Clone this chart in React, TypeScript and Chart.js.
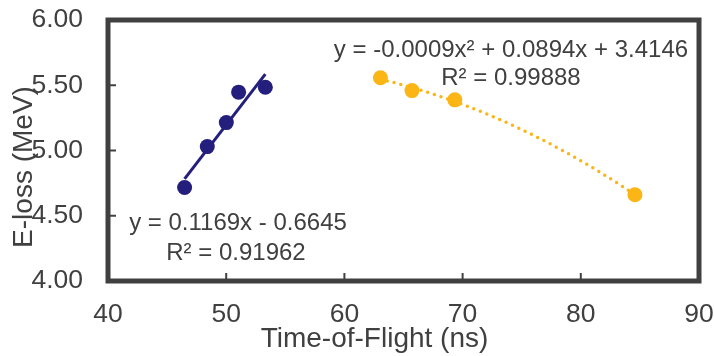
import React, { useEffect, useRef } from 'react';
import { Chart, registerables } from 'chart.js';

Chart.register(...registerables);

// Series
const blueX = [46.48, 48.4, 50.01, 51.05, 53.31];
const blueY = [4.716, 5.03, 5.214, 5.447, 5.485];
const orangeX = [63.05, 65.72, 69.34, 84.58];
const orangeY = [5.558, 5.459, 5.388, 4.661];

// Axis settings
const xMin = 40;
const xMax = 90;
const xStep = 10;
const yMin = 4;
const yMax = 6;
const yStep = 0.5;

// Text
const xTitle = 'Time-of-Flight (ns)';
const yTitle = 'E-loss (MeV)';
const blueEq = 'y = 0.1169x - 0.6645';
const blueR2 = 'R² = 0.91962';
const orangeEq = 'y = -0.0009x² + 0.0894x + 3.4146';
const orangeR2 = 'R² = 0.99888';

const BLUE = '#241f7d';
const ORANGE = '#fbb616';
const TEXT = '#404040';
const FONT = '"Liberation Sans", Arial, sans-serif';

function linFit(xs: number[], ys: number[]) {
  const n = xs.length;
  const mx = xs.reduce((a, b) => a + b, 0) / n;
  const my = ys.reduce((a, b) => a + b, 0) / n;
  let sxy = 0, sxx = 0;
  for (let i = 0; i < n; i++) {
    sxy += (xs[i] - mx) * (ys[i] - my);
    sxx += (xs[i] - mx) ** 2;
  }
  const b = sxy / sxx;
  return [my - b * mx, b];
}

function quadFit(xs: number[], ys: number[]) {
  const S = (p: number) => xs.reduce((a, x) => a + x ** p, 0);
  const T = (p: number) => xs.reduce((a, x, i) => a + x ** p * ys[i], 0);
  const m = [
    [S(0), S(1), S(2), T(0)],
    [S(1), S(2), S(3), T(1)],
    [S(2), S(3), S(4), T(2)],
  ];
  for (let c = 0; c < 3; c++) {
    for (let r = c + 1; r < 3; r++) {
      const f = m[r][c] / m[c][c];
      for (let k = c; k < 4; k++) m[r][k] -= f * m[c][k];
    }
  }
  const res = [0, 0, 0];
  for (let r = 2; r >= 0; r--) {
    let s = m[r][3];
    for (let k = r + 1; k < 3; k++) s -= m[r][k] * res[k];
    res[r] = s / m[r][r];
  }
  return res;
}

export default function App() {
  const ref = useRef<HTMLCanvasElement>(null);

  useEffect(() => {
    if (!ref.current) return;
    const lin = linFit(blueX, blueY);
    const q = quadFit(orangeX, orangeY);
    const bMin = Math.min(...blueX), bMax = Math.max(...blueX);
    const oMin = Math.min(...orangeX), oMax = Math.max(...orangeX);
    const linLine = [bMin, bMax].map((x) => ({ x, y: lin[0] + lin[1] * x }));
    const quadLine: { x: number; y: number }[] = [];
    for (let i = 0; i <= 60; i++) {
      const x = oMin + ((oMax - oMin) * i) / 60;
      quadLine.push({ x, y: q[0] + q[1] * x + q[2] * x * x });
    }

    const frame = {
      id: 'frame',
      afterDraw(chart: any) {
        const { ctx, chartArea: a, scales } = chart;
        ctx.save();
        ctx.strokeStyle = TEXT;
        ctx.lineWidth = 2;
        scales.x.ticks.forEach((t: any) => {
          if (t.value <= xMin || t.value >= xMax) return;
          const px = scales.x.getPixelForValue(t.value);
          ctx.beginPath();
          ctx.moveTo(px, a.bottom);
          ctx.lineTo(px, a.bottom - 8);
          ctx.stroke();
        });
        scales.y.ticks.forEach((t: any) => {
          if (t.value <= yMin || t.value >= yMax) return;
          const py = scales.y.getPixelForValue(t.value);
          ctx.beginPath();
          ctx.moveTo(a.left, py);
          ctx.lineTo(a.left + 8, py);
          ctx.stroke();
        });
        ctx.lineWidth = 5;
        ctx.strokeRect(a.left, a.top, a.right - a.left, a.bottom - a.top);

        ctx.fillStyle = TEXT;
        ctx.textBaseline = 'alphabetic';
        ctx.textAlign = 'center';
        ctx.font = `24px ${FONT}`;
        ctx.fillText(blueEq, 238, 229.5);
        ctx.fillText(blueR2, 236, 260);
        ctx.fillText(orangeEq, 511, 56.5);
        ctx.fillText(orangeR2, 511, 85);

        ctx.font = `28px ${FONT}`;
        ctx.fillText(xTitle, 374.5, 347);
        ctx.translate(32, 167);
        ctx.rotate(-Math.PI / 2);
        ctx.fillText(yTitle, 0, 0);
        ctx.restore();
      },
    };

    const chart = new Chart(ref.current, {
      type: 'scatter',
      data: {
        datasets: [
          {
            data: blueX.map((x, i) => ({ x, y: blueY[i] })),
            backgroundColor: BLUE,
            borderWidth: 0,
            pointRadius: 7.5,
          },
          {
            data: orangeX.map((x, i) => ({ x, y: orangeY[i] })),
            backgroundColor: ORANGE,
            borderWidth: 0,
            pointRadius: 7.5,
          },
          {
            data: linLine,
            showLine: true,
            borderColor: BLUE,
            borderWidth: 3,
            pointRadius: 0,
          },
          {
            data: quadLine,
            showLine: true,
            borderColor: ORANGE,
            borderWidth: 3.5,
            borderDash: [0, 7],
            borderCapStyle: 'round',
            pointRadius: 0,
            tension: 0,
          },
        ],
      } as any,
      plugins: [frame],
      options: {
        animation: false,
        responsive: false,
        devicePixelRatio: 1,
        layout: { padding: { left: 0, top: 20, right: 15, bottom: 0 } },
        plugins: { legend: { display: false }, tooltip: { enabled: false } },
        scales: {
          x: {
            type: 'linear',
            min: xMin,
            max: xMax,
            grid: { display: false, drawTicks: false },
            border: { display: false },
            ticks: {
              stepSize: xStep,
              color: TEXT,
              font: { family: FONT, size: 26.5 },
              padding: 18,
            },
            afterFit: (s: any) => {
              s.height = 75;
              s.paddingLeft = 0;
              s.paddingRight = 0;
            },
          },
          y: {
            type: 'linear',
            min: yMin,
            max: yMax,
            grid: { display: false, drawTicks: false },
            border: { display: false },
            ticks: {
              stepSize: yStep,
              color: TEXT,
              font: { family: FONT, size: 26.5 },
              padding: 25,
              callback: (v: any) => Number(v).toFixed(2),
            },
            afterFit: (s: any) => {
              s.width = 108;
              s.paddingTop = 0;
              s.paddingBottom = 0;
            },
          },
        },
      } as any,
    });
    return () => chart.destroy();
  }, []);

  return (
    <div style={{ position: 'fixed', left: 0, top: 0, width: 714, height: 356, background: '#fff' }}>
      <canvas ref={ref} width={714} height={356} style={{ width: 714, height: 356, display: 'block' }} />
    </div>
  );
}
